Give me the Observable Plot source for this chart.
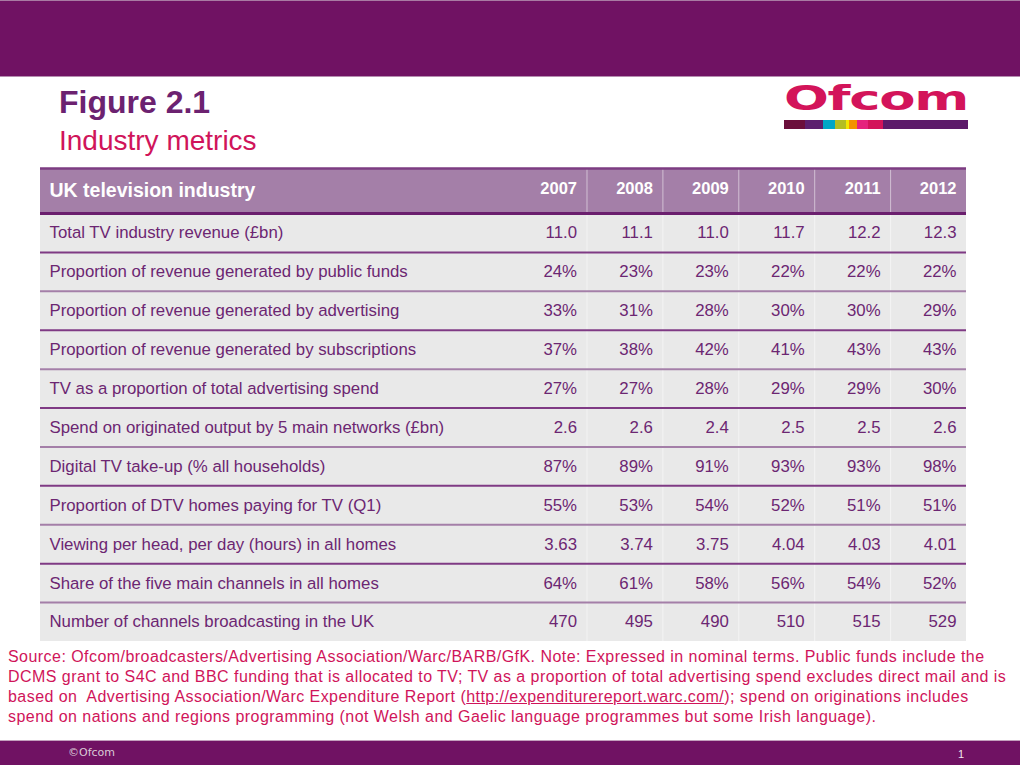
<!DOCTYPE html>
<html>
<head>
<meta charset="utf-8">
<script src="https://cdn.jsdelivr.net/npm/d3@7"></script>
<script src="https://cdn.jsdelivr.net/npm/@observablehq/plot@0.6"></script>
<style>
  html, body { margin: 0; padding: 0; background: #fff; }
  #page { position: relative; width: 1020px; height: 765px; overflow: hidden; font-family: "Liberation Sans", Arial, sans-serif; background: #fff; }
  #topbar { position: absolute; left: 0; top: 0; width: 1020px; height: 75px; background: #701263; border-top: 1px solid #a97aa3; border-bottom: 1px solid #b58db0; }
  #title { position: absolute; left: 59px; top: 86px; font-size: 32px; line-height: 32px; font-weight: bold; color: #6c2270; white-space: nowrap; }
  #subtitle { position: absolute; left: 59px; top: 127px; font-size: 28px; line-height: 28px; color: #d0145a; white-space: nowrap; }
  #logo { position: absolute; left: 784px; top: 82px; font-family: "DejaVu Sans", sans-serif; font-weight: bold; font-size: 33px; line-height: 33px; color: #d3145a; transform: scaleX(1.6); transform-origin: left top; white-space: nowrap; letter-spacing: -0.8px; }
  #stripe { position: absolute; left: 784px; top: 120px; width: 184px; height: 9px; display: flex; }
  #stripe div { height: 9px; }
  #chart { position: absolute; left: 40px; top: 166px; }
  #source { position: absolute; left: 8px; top: 647px; width: 1010px; font-size: 16px; letter-spacing: 0.45px; line-height: 20px; color: #d0145a; white-space: nowrap; }
  #source a { color: #d0145a; text-decoration: underline; }
  #footer { position: absolute; left: 0; top: 740px; width: 1020px; height: 24px; background: #701263; border-top: 1px solid #c3a0bd; }
  #copy { position: absolute; left: 68px; top: 5px; font-family: "DejaVu Sans", sans-serif; font-size: 11px; color: #d9c9d6; }
  #pagenum { position: absolute; left: 958px; top: 7px; font-size: 11px; color: #f0e8ee; }
</style>
</head>
<body>
<div id="page">
  <div id="topbar"></div>
  <div id="title">Figure 2.1</div>
  <div id="subtitle">Industry metrics</div>
  <div id="logo">Ofcom</div>
  <div id="stripe"></div>
  <div id="chart"></div>
  <div id="source">Source: Ofcom/broadcasters/Advertising Association/Warc/BARB/GfK. Note: Expressed in nominal terms. Public funds include the<br>DCMS grant to S4C and BBC funding that is allocated to TV; TV as a proportion of total advertising spend excludes direct mail and is<br>based on&nbsp; Advertising Association/Warc Expenditure Report (<a>http://expenditurereport.warc.com/</a>); spend on originations includes<br>spend on nations and regions programming (not Welsh and Gaelic language programmes but some Irish language).</div>
  <div id="footer"><span id="copy">©Ofcom</span><span id="pagenum">1</span></div>
</div>
<script>
// ---- Data ----
const tableTitle = "UK television industry";
const years = ["2007", "2008", "2009", "2010", "2011", "2012"];
const metrics = [
  "Total TV industry revenue (£bn)",
  "Proportion of revenue generated by public funds",
  "Proportion of revenue generated by advertising",
  "Proportion of revenue generated by subscriptions",
  "TV as a proportion of total advertising spend",
  "Spend on originated output by 5 main networks (£bn)",
  "Digital TV take-up (% all households)",
  "Proportion of DTV homes paying for TV (Q1)",
  "Viewing per head, per day (hours) in all homes",
  "Share of the five main channels in all homes",
  "Number of channels broadcasting in the UK"
];
const totalRevenue     = [11.0, 11.1, 11.0, 11.7, 12.2, 12.3];
const publicFunds      = [24, 23, 23, 22, 22, 22];
const advertising      = [33, 31, 28, 30, 30, 29];
const subscriptions    = [37, 38, 42, 41, 43, 43];
const tvAdShare        = [27, 27, 28, 29, 29, 30];
const originatedSpend  = [2.6, 2.6, 2.4, 2.5, 2.5, 2.6];
const digitalTakeUp    = [87, 89, 91, 93, 93, 98];
const payingHomes      = [55, 53, 54, 52, 51, 51];
const viewingHours     = [3.63, 3.74, 3.75, 4.04, 4.03, 4.01];
const fiveChannelShare = [64, 61, 58, 56, 54, 52];
const channelCount     = [470, 495, 490, 510, 515, 529];
const rowFormats = ["1f", "pct", "pct", "pct", "pct", "1f", "pct", "pct", "2f", "pct", "int"];

const stripeColors = ["#6b0f3b", "#5c1f6e", "#00a6c6", "#b3bd22", "#f2e500", "#f39200", "#e5237d", "#d3145a", "#5d1a6a"];
const stripeWidths = [21, 18, 12, 11, 3, 8, 11, 15, 85];

// ---- Logo stripe ----
const stripe = document.getElementById("stripe");
stripeColors.forEach((c, i) => {
  const d = document.createElement("div");
  d.style.background = c; d.style.width = stripeWidths[i] + "px";
  stripe.appendChild(d);
});

// ---- Table build ----
const series = [totalRevenue, publicFunds, advertising, subscriptions, tvAdShare, originatedSpend,
                digitalTakeUp, payingHomes, viewingHours, fiveChannelShare, channelCount];
const formatters = {
  "1f": d3.format(".1f"),
  "2f": d3.format(".2f"),
  "pct": v => v + "%",
  "int": d3.format("d")
};
const header = {row: 0, label: tableTitle};
const rows = metrics.map((label, i) => ({row: i + 1, label}));
const cells = rows.flatMap((r, i) => years.map((yr, j) => ({
  row: r.row, col: j, text: formatters[rowFormats[i]](series[i][j])
})));
const yearCells = years.map((yr, j) => ({row: 0, col: j, text: yr}));

const labelColumnUnits = 6.2;
const xDomain = [-labelColumnUnits, years.length];
const textColor = "#6c2672";

const chart = Plot.plot({
  width: 926,
  height: 477,
  marginTop: 2, marginBottom: 2, marginLeft: 0, marginRight: 0,
  x: {type: "linear", domain: xDomain, axis: null},
  y: {type: "linear", domain: [0, 1, metrics.length + 1], range: [2, 47, 475], axis: null},
  style: {fontFamily: "'Liberation Sans', Arial, sans-serif", fontSize: "16.8px", background: "transparent"},
  marks: [
    Plot.rect(rows, {x1: () => xDomain[0], x2: () => xDomain[1], y1: "row", y2: d => d.row + 1, fill: "#e9e9e9"}),
    Plot.rect([header], {x1: () => xDomain[0], x2: () => xDomain[1], y1: "row", y2: d => d.row + 1, fill: "#a47fa8"}),
    Plot.ruleX(years.slice(1), {x: d => years.indexOf(d), stroke: "white", strokeOpacity: 0.5}),
    Plot.ruleY(rows.slice(1).filter(d => d.row % 2 === 0), {y: "row", stroke: "#7f3a84", strokeWidth: 2}),
    Plot.ruleY(rows.slice(1).filter(d => d.row % 2 === 1), {y: "row", stroke: "#a47fa8", strokeWidth: 2}),
    Plot.ruleY([header], {y: "row", stroke: "#7d3c82", strokeWidth: 2.5}),
    Plot.ruleY([header], {y: d => d.row + 1, stroke: "#6b1f6e", strokeWidth: 3}),
    Plot.text([header], {y: d => d.row + 0.5, text: "label", frameAnchor: "left", textAnchor: "start", dx: 9, fill: "white", fontWeight: "bold", fontSize: 19.5}),
    Plot.text(yearCells, {x: d => d.col + 1, y: d => d.row + 0.5, text: "text", textAnchor: "end", dx: -10, dy: -2, fill: "white", fontWeight: "bold", fontSize: 16.5}),
    Plot.text(rows, {y: d => d.row + 0.5, text: "label", frameAnchor: "left", textAnchor: "start", dx: 9, fill: textColor}),
    Plot.text(cells, {x: d => d.col + 1, y: d => d.row + 0.5, text: "text", textAnchor: "end", dx: -10, fill: textColor})
  ]
});
document.getElementById("chart").appendChild(chart);
</script>
</body>
</html>
